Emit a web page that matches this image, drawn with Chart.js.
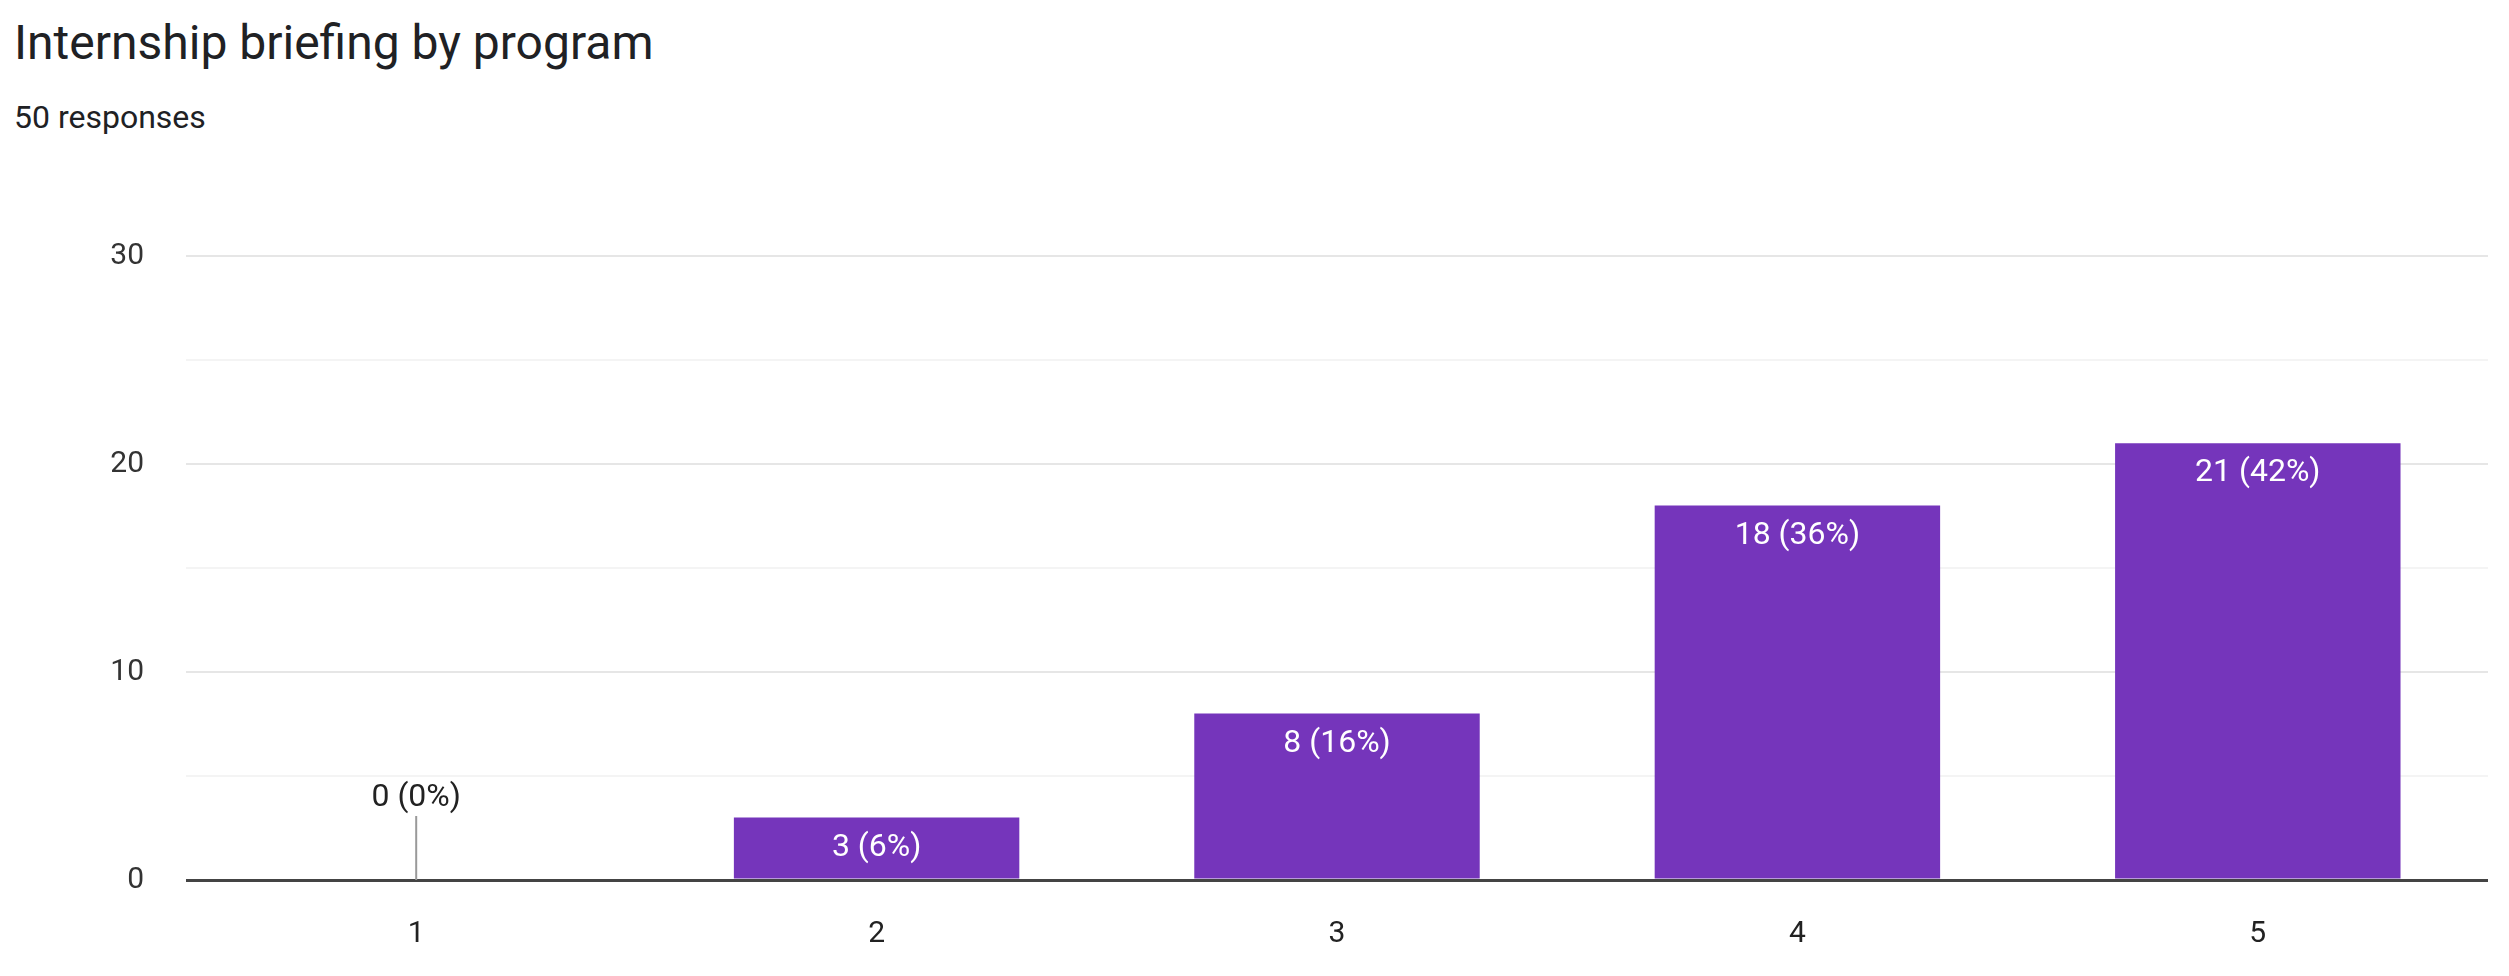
<!DOCTYPE html>
<html>
<head>
<meta charset="utf-8">
<script src="https://cdn.jsdelivr.net/npm/chart.js@4"></script>
<style>
  body { margin: 0; background: #fff; font-family: Roboto, "Noto Sans", sans-serif; }
  #title { position: absolute; left: 14px; top: 14px; font-size: 48px; color: #202124; }
  #sub { position: absolute; left: 14px; top: 98px; font-size: 32px; color: #202124; }
  #wrap { position: absolute; left: 0; top: 0; width: 2509px; height: 976px; }
</style>
</head>
<body>
<div id="title">Internship briefing by program</div>
<div id="sub">50 responses</div>
<div id="wrap"><canvas id="chart"></canvas></div>
<script>
const categories = ['1', '2', '3', '4', '5'];
const counts = [0, 3, 8, 18, 21];
const percents = ['0%', '6%', '16%', '36%', '42%'];
const yTicks = [0, 10, 20, 30];

const barColor = '#7535bb';

// Draw "n (p%)" labels; white inside the bar, dark above an empty bar
const barLabels = {
  id: 'barLabels',
  afterDatasetsDraw(chart) {
    const ctx = chart.ctx;
    const meta = chart.getDatasetMeta(0);
    ctx.save();
    ctx.font = '32px Roboto, Arial, sans-serif';
    ctx.textAlign = 'center';
    meta.data.forEach((bar, i) => {
      const text = counts[i] + ' (' + percents[i] + ')';
      if (counts[i] === 0) {
        ctx.strokeStyle = '#999';
        ctx.lineWidth = 2;
        ctx.beginPath();
        ctx.moveTo(bar.x, bar.base);
        ctx.lineTo(bar.x, bar.base - 64);
        ctx.stroke();
        ctx.fillStyle = '#222';
        ctx.textBaseline = 'bottom';
        ctx.fillText(text, bar.x, bar.base - 66);
      } else {
        ctx.fillStyle = '#fff';
        ctx.textBaseline = 'top';
        ctx.fillText(text, bar.x, bar.y + 14);
      }
    });
    ctx.restore();
  }
};

new Chart(document.getElementById('chart'), {
  type: 'bar',
  data: {
    labels: categories,
    datasets: [{ data: counts, backgroundColor: barColor, barPercentage: 0.62, categoryPercentage: 1 }]
  },
  options: {
    responsive: true,
    maintainAspectRatio: false,
    animation: false,
    layout: { padding: { top: 256, right: 21, left: 0, bottom: 0 } },
    plugins: { legend: { display: false }, tooltip: { enabled: false } },
    scales: {
      x: {
        grid: { display: false, drawTicks: false },
        border: { display: false },
        ticks: { color: '#222', font: { size: 30, family: 'Roboto' }, padding: 36 },
        afterFit(s) { s.height = 96; }
      },
      y: {
        min: 0, max: 30,
        border: { display: false },
        grid: {
          drawTicks: false,
          color: c => c.tick.value === 0 ? '#444' : (c.tick.value % 10 === 0 ? '#e6e6e6' : '#f4f4f4'),
          lineWidth: c => c.tick.value === 0 ? 3 : 2
        },
        ticks: {
          stepSize: 5,
          color: '#333',
          font: { size: 30, family: 'Roboto' },
          padding: 42,
          callback: v => yTicks.includes(v) ? v : ''
        },
        afterFit(s) { s.width = 186; }
      }
    }
  },
  plugins: [barLabels]
});
</script>
</body>
</html>
